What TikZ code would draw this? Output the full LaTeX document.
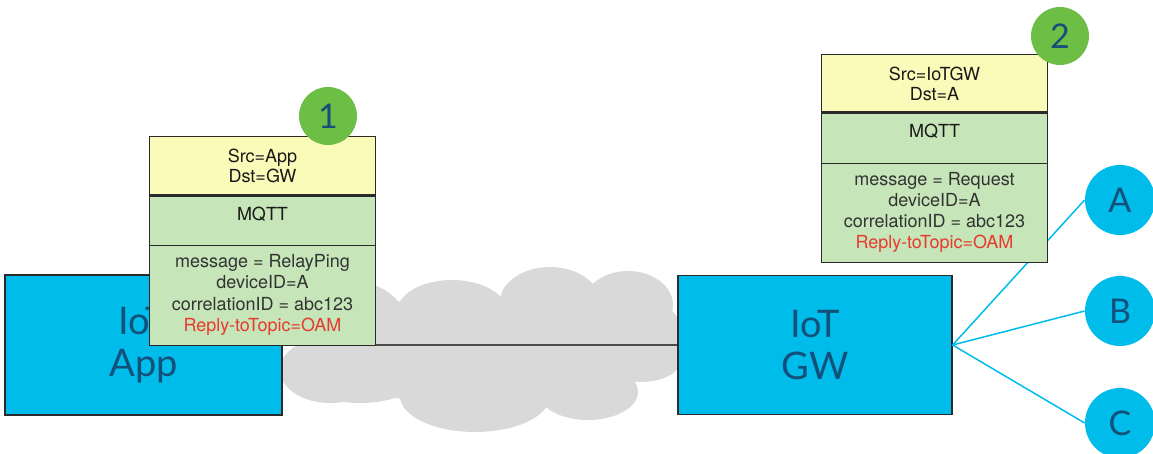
\documentclass[tikz,border=0pt]{standalone}
\usepackage{fontspec}
\setmainfont{TeX Gyre Heros}
\newfontfamily\thinfont{Lato}
\definecolor{cyanbox}{HTML}{00BCEB}
\definecolor{navy}{HTML}{13507A}
\definecolor{hdrY}{HTML}{FAFAB9}
\definecolor{bodyG}{HTML}{C6E5B9}
\definecolor{badgeG}{HTML}{6CBE45}
\definecolor{redtxt}{HTML}{E8392E}
\definecolor{cloudgray}{HTML}{D9D9D9}
\definecolor{edge}{HTML}{2A2A2A}
\definecolor{bodytxt}{HTML}{333333}
\begin{document}
\begin{tikzpicture}[x=0.5pt,y=-0.5pt,
  bigbox/.style={draw=edge, line width=0.6pt, fill=cyanbox, inner sep=0pt, text=navy,
    font=\thinfont\fontsize{19}{21}\selectfont, align=center},
  dev/.style={circle, fill=cyanbox, minimum size=35pt, inner sep=0pt, text=navy,
    font=\thinfont\fontsize{17}{17}\selectfont},
  badge/.style={circle, fill=badgeG, minimum size=29pt, inner sep=0pt, text=navy,
    font=\thinfont\fontsize{17}{17}\selectfont},
  sec/.style={minimum width=112.5pt, inner sep=0pt, align=center,
    font=\fontsize{9}{10}\selectfont},
  hdr/.style={sec, fill=hdrY, text=black!90},
  mq/.style={sec, fill=bodyG},
  bd/.style={sec, fill=bodyG, text=bodytxt, font=\fontsize{9}{10.6}\selectfont},
  ptxt/.style={inner sep=0pt, font=\fontsize{9}{10}\selectfont, text=black!90},
  frame/.style={draw=edge, line width=0.75pt},
  thickdiv/.style={draw=edge, line width=1.5pt},
  thindiv/.style={draw=edge, line width=0.6pt},
  conn/.style={draw=black!70, line width=0.75pt},
  devconn/.style={draw=cyanbox, line width=0.75pt}]
\useasboundingbox (0,0) rectangle (1153,454);

% cloud
\fill[cloudgray] (470,350) ellipse [x radius=150, y radius=55];
\fill[cloudgray] (330,370) ellipse [x radius=50, y radius=33];
\fill[cloudgray] (345,320) ellipse [x radius=60, y radius=40];
\fill[cloudgray] (452,312) ellipse [x radius=55, y radius=32];
\fill[cloudgray] (550,302) ellipse [x radius=50, y radius=35];
\fill[cloudgray] (628,305) ellipse [x radius=45, y radius=34];
\fill[cloudgray] (648,335) ellipse [x radius=35, y radius=33];
\fill[cloudgray] (475,396) ellipse [x radius=75, y radius=36];
\fill[cloudgray] (588,392) ellipse [x radius=50, y radius=28];
\fill[cloudgray] (640,362) ellipse [x radius=40, y radius=20];
\fill[cloudgray] (360,385) ellipse [x radius=50, y radius=18];

% main boxes
\node[bigbox, minimum width=138.5pt, minimum height=70pt] (app) at (143.5,345) {IoT\\App};
\node[bigbox, minimum width=137pt, minimum height=69.5pt] (gw) at (815,345) {IoT\\GW};
\draw[conn] (app.east) -- (gw.west);

% devices
\node[dev] (devA) at (1120,200) {A};
\node[dev] (devB) at (1120,311) {B};
\node[dev] (devC) at (1120,423) {C};
\draw[devconn] (gw.east) -- (devA.west);
\draw[devconn] (gw.east) -- (devB.west);
\draw[devconn] (gw.east) -- (devC.west);

% packet 1
\node[hdr, minimum height=29pt] (p1h) at (262.5,166) {Src=App\\Dst=GW};
\node[mq, minimum height=25pt] (p1m) at (262.5,220) {};
\node[ptxt, anchor=north] (p1mt) at ([yshift=-6pt]p1m.north) {MQTT};
\node[bd, minimum height=50pt] (p1b) at (262.5,295)
  {message = RelayPing\\deviceID=A\\correlationID = abc123\\\textcolor{redtxt}{Reply-toTopic=OAM}};
\draw[frame] (p1h.north west) rectangle (p1b.south east);
\draw[thickdiv] (p1h.south west) -- (p1h.south east);
\draw[thindiv] (p1m.south west) -- (p1m.south east);
\node[badge] (b1) at (328,116) {1};

% packet 2
\node[hdr, minimum height=28.5pt] (p2h) at (934.5,83.5) {Src=IoTGW\\Dst=A};
\node[mq, minimum height=25.5pt] (p2m) at (934.5,137.5) {};
\node[ptxt, anchor=north] (p2mt) at ([yshift=-6pt]p2m.north) {MQTT};
\node[bd, minimum height=49.5pt] (p2b) at (934.5,212.5)
  {message = Request\\deviceID=A\\correlationID = abc123\\\textcolor{redtxt}{Reply-toTopic=OAM}};
\draw[frame] (p2h.north west) rectangle (p2b.south east);
\draw[thickdiv] (p2h.south west) -- (p2h.south east);
\draw[thindiv] (p2m.south west) -- (p2m.south east);
\node[badge] (b2) at (1060,36) {2};
\end{tikzpicture}
\end{document}
